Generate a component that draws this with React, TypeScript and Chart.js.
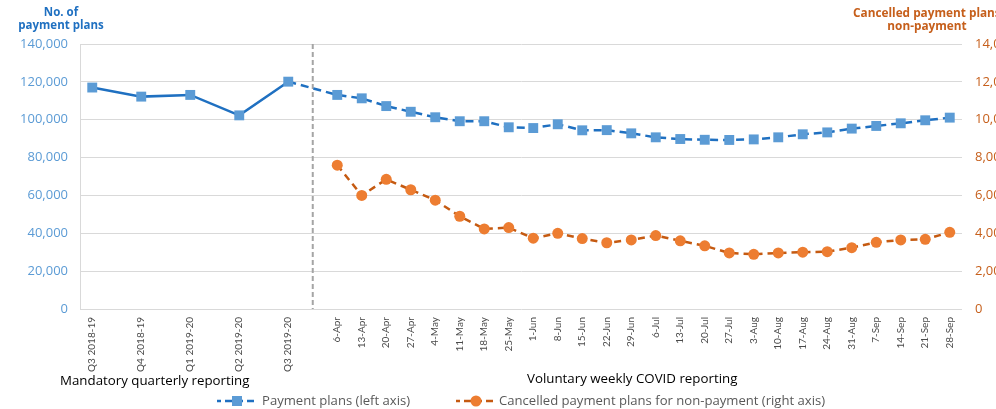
import React, { useEffect, useRef } from "react";
import Chart from "chart.js/auto";

// ---- data ----
const quarterLabels = ["Q3 2018-19", "Q4 2018-19", "Q1 2019-20", "Q2 2019-20", "Q3 2019-20"];
const quarterPlans = [117000, 112200, 113100, 102300, 120100];

const weekLabels = [
  "6-Apr", "13-Apr", "20-Apr", "27-Apr", "4-May", "11-May", "18-May", "25-May",
  "1-Jun", "8-Jun", "15-Jun", "22-Jun", "29-Jun", "6-Jul", "13-Jul", "20-Jul",
  "27-Jul", "3-Aug", "10-Aug", "17-Aug", "24-Aug", "31-Aug", "7-Sep", "14-Sep",
  "21-Sep", "28-Sep",
];
const weekPlans = [
  113100, 111300, 107200, 104200, 101300, 99200, 99200, 96000, 95600, 97600,
  94400, 94500, 92800, 90700, 89800, 89400, 89300, 89600, 90700, 92300,
  93300, 95300, 96700, 98100, 99700, 101100,
];
const weekCancelled = [
  7600, 6000, 6850, 6300, 5750, 4900, 4230, 4300, 3740, 4000,
  3720, 3500, 3650, 3880, 3600, 3340, 2960, 2890, 2960, 3000,
  3030, 3240, 3520, 3650, 3680, 4050,
];

const leftTicksMax = 140000;
const leftStep = 20000;
const rightTicksMax = 14000;
const rightStep = 2000;

const BLUE_LINE = "#1F70C1";
const BLUE_MARK = "#5B9BD5";
const ORANGE_LINE = "#C55A11";
const ORANGE_MARK = "#ED7D31";
const FONT = "'Open Sans', Lato, sans-serif";
const XFONT = "Lato, 'Open Sans', sans-serif";

// Build the category table: each quarter followed by an empty slot, then weeks
const labels: string[] = [];
const plansData: (number | null)[] = [];
const cancelledData: (number | null)[] = [];
quarterLabels.forEach((q, i) => {
  labels.push(q);
  plansData.push(quarterPlans[i]);
  cancelledData.push(null);
  labels.push("");
  plansData.push(null);
  cancelledData.push(null);
});
const dividerIndex = quarterLabels.length * 2 - 1;
const lastQuarterIndex = dividerIndex - 1;
weekLabels.forEach((w, i) => {
  labels.push(w);
  plansData.push(weekPlans[i]);
  cancelledData.push(weekCancelled[i]);
});

const fmt = (v: number | string) => Number(v).toLocaleString("en-US");

const dividerPlugin = {
  id: "divider",
  beforeDatasetsDraw(chart: any) {
    const { ctx, chartArea, scales } = chart;
    const x = scales.x.getPixelForValue(dividerIndex);
    ctx.save();
    ctx.strokeStyle = "#A5A5A5";
    ctx.lineWidth = 2;
    ctx.setLineDash([5, 3]);
    ctx.beginPath();
    ctx.moveTo(x, chartArea.top);
    ctx.lineTo(x, chartArea.bottom);
    ctx.stroke();
    ctx.restore();
  },
};

const CANVAS_W = 1045;
const CANVAS_H = 409;
const PLOT_LEFT = 80;
const PLOT_RIGHT = 962;
const PLOT_TOP = 44;
const PLOT_BOTTOM = 309;

export default function App() {
  const ref = useRef<HTMLCanvasElement | null>(null);

  useEffect(() => {
    if (!ref.current) return;
    const chart = new Chart(ref.current, {
      type: "line",
      data: {
        labels,
        datasets: [
          {
            label: "Payment plans (left axis)",
            data: plansData,
            yAxisID: "y",
            borderColor: BLUE_LINE,
            borderWidth: 2.5,
            pointStyle: "rect",
            pointRadius: 7,
            pointHoverRadius: 7,
            pointBackgroundColor: BLUE_MARK,
            pointBorderColor: BLUE_MARK,
            pointBorderWidth: 0,
            spanGaps: true,
            tension: 0,
            segment: {
              borderDash: (c: any) => (c.p0DataIndex >= lastQuarterIndex ? [8, 5] : undefined),
            },
          },
          {
            label: "Cancelled payment plans for non-payment (right axis)",
            data: cancelledData,
            yAxisID: "y1",
            borderColor: ORANGE_LINE,
            borderWidth: 2.5,
            borderDash: [7, 5],
            pointStyle: "circle",
            pointRadius: 5.5,
            pointHoverRadius: 5.5,
            pointBackgroundColor: ORANGE_MARK,
            pointBorderColor: ORANGE_MARK,
            pointBorderWidth: 0,
            spanGaps: false,
            tension: 0,
          },
        ],
      },
      options: {
        responsive: false,
        animation: false,
        devicePixelRatio: 1,
        layout: { padding: { top: PLOT_TOP, left: 0, right: 0, bottom: 0 } },
        plugins: {
          legend: { display: false },
          tooltip: { enabled: false },
        },
        scales: {
          x: {
            type: "category",
            offset: true,
            grid: { display: false, drawTicks: false },
            border: { display: false },
            ticks: {
              autoSkip: false,
              maxRotation: 90,
              minRotation: 90,
              padding: 8,
              color: "#4A4A4A",
              font: { family: XFONT, size: 10 },
            },
            afterFit: (s: any) => {
              s.height = CANVAS_H - PLOT_BOTTOM;
            },
          },
          y: {
            position: "left",
            min: 0,
            max: leftTicksMax,
            ticks: {
              stepSize: leftStep,
              padding: 12,
              color: BLUE_MARK,
              font: { family: FONT, size: 13 },
              callback: (v: any) => fmt(v),
            },
            grid: { color: "#D9D9D9", drawTicks: false, lineWidth: 1 },
            border: { display: true, color: "#D9D9D9" },
            afterFit: (s: any) => {
              s.width = PLOT_LEFT;
            },
          },
          y1: {
            position: "right",
            min: 0,
            max: rightTicksMax,
            ticks: {
              stepSize: rightStep,
              padding: 13,
              color: "#C65F1B",
              font: { family: FONT, size: 13 },
              callback: (v: any) => fmt(v),
            },
            grid: { drawOnChartArea: false, drawTicks: false },
            border: { display: false },
            afterFit: (s: any) => {
              s.width = CANVAS_W - PLOT_RIGHT;
            },
          },
        },
      },
      plugins: [dividerPlugin],
    });
    return () => chart.destroy();
  }, []);

  const textBase: React.CSSProperties = {
    position: "absolute",
    fontFamily: FONT,
    whiteSpace: "nowrap",
    lineHeight: "13px",
  };

  return (
    <div
      style={{
        position: "fixed",
        left: 0,
        top: 0,
        width: 996,
        height: 409,
        overflow: "hidden",
        background: "#fff",
      }}
    >
      <canvas
        ref={ref}
        width={CANVAS_W}
        height={CANVAS_H}
        style={{ position: "absolute", left: 0, top: 0, width: CANVAS_W, height: CANVAS_H }}
      />
      {/* left axis title */}
      <div
        style={{
          ...textBase,
          left: 11,
          top: 5,
          width: 100,
          textAlign: "center",
          fontWeight: 700,
          fontSize: 11.5,
          color: BLUE_LINE,
        }}
      >
        No. of
        <br />
        payment plans
      </div>
      {/* right axis title */}
      <div
        style={{
          ...textBase,
          left: 853,
          top: 6,
          fontWeight: 700,
          fontSize: 11.8,
          color: "#C65F1B",
        }}
      >
        Cancelled payment plans for
      </div>
      <div
        style={{
          ...textBase,
          left: 867,
          top: 19,
          width: 120,
          textAlign: "center",
          fontWeight: 700,
          fontSize: 11.8,
          color: "#C65F1B",
        }}
      >
        non-payment
      </div>
      {/* section captions */}
      <div style={{ ...textBase, left: 60, top: 374, fontSize: 13.3, color: "#000" }}>
        Mandatory quarterly reporting
      </div>
      <div style={{ ...textBase, left: 527, top: 372, fontSize: 13.3, color: "#000" }}>
        Voluntary weekly COVID reporting
      </div>
      {/* legend */}
      <div style={{ ...textBase, left: 217, top: 394, display: "flex", alignItems: "center", fontSize: 13.1, color: "#595959" }}>
        <svg width={40} height={12} style={{ marginRight: 5 }}>
          <line x1={0} y1={6} x2={40} y2={6} stroke={BLUE_LINE} strokeWidth={2.5} strokeDasharray="7 4" strokeDashoffset={3} />
          <rect x={15} y={1} width={10} height={10} fill={BLUE_MARK} />
        </svg>
        <span>Payment plans (left axis)</span>
      </div>
      <div style={{ ...textBase, left: 456, top: 394, display: "flex", alignItems: "center", fontSize: 13.1, color: "#595959" }}>
        <svg width={40} height={12} style={{ marginRight: 3 }}>
          <line x1={0} y1={6} x2={40} y2={6} stroke={ORANGE_LINE} strokeWidth={2.5} strokeDasharray="7 4" strokeDashoffset={3} />
          <circle cx={20} cy={6} r={5.5} fill={ORANGE_MARK} />
        </svg>
        <span>Cancelled payment plans for non-payment (right axis)</span>
      </div>
    </div>
  );
}
